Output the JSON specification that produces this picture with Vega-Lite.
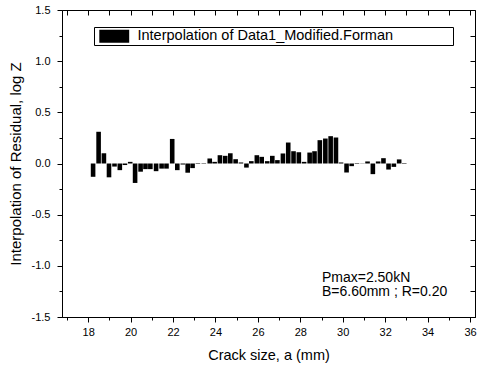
{
  "$schema": "https://vega.github.io/schema/vega-lite/v6.json",
  "width": 413,
  "height": 307,
  "autosize": {"type": "none"},
  "padding": {"left": 62, "top": 10, "right": 5, "bottom": 54},
  "background": "white",
  "config": {
    "view": {"stroke": "black", "strokeWidth": 1},
    "font": "Liberation Sans",
    "axis": {
      "domainColor": "black", "tickColor": "black", "labelColor": "black", "titleColor": "black",
      "labelFont": "Liberation Sans", "titleFont": "Liberation Sans",
      "labelFontSize": 11, "titleFontSize": 14.5, "titleFontWeight": "normal",
      "grid": false, "tickWidth": 1, "domainWidth": 1
    }
  },
  "datasets": {
    "bars": [
      {"a": 18.23, "z": -0.13, "series": "Interpolation of Data1_Modified.Forman"},
      {"a": 18.49, "z": 0.31, "series": "Interpolation of Data1_Modified.Forman"},
      {"a": 18.74, "z": 0.10, "series": "Interpolation of Data1_Modified.Forman"},
      {"a": 18.98, "z": -0.135, "series": "Interpolation of Data1_Modified.Forman"},
      {"a": 19.24, "z": -0.03, "series": "Interpolation of Data1_Modified.Forman"},
      {"a": 19.49, "z": -0.065, "series": "Interpolation of Data1_Modified.Forman"},
      {"a": 19.73, "z": -0.015, "series": "Interpolation of Data1_Modified.Forman"},
      {"a": 19.98, "z": 0.016, "series": "Interpolation of Data1_Modified.Forman"},
      {"a": 20.21, "z": -0.19, "series": "Interpolation of Data1_Modified.Forman"},
      {"a": 20.47, "z": -0.08, "series": "Interpolation of Data1_Modified.Forman"},
      {"a": 20.70, "z": -0.055, "series": "Interpolation of Data1_Modified.Forman"},
      {"a": 20.93, "z": -0.055, "series": "Interpolation of Data1_Modified.Forman"},
      {"a": 21.20, "z": -0.075, "series": "Interpolation of Data1_Modified.Forman"},
      {"a": 21.46, "z": -0.05, "series": "Interpolation of Data1_Modified.Forman"},
      {"a": 21.69, "z": -0.05, "series": "Interpolation of Data1_Modified.Forman"},
      {"a": 21.96, "z": 0.24, "series": "Interpolation of Data1_Modified.Forman"},
      {"a": 22.20, "z": -0.065, "series": "Interpolation of Data1_Modified.Forman"},
      {"a": 22.46, "z": -0.01, "series": "Interpolation of Data1_Modified.Forman"},
      {"a": 22.69, "z": -0.09, "series": "Interpolation of Data1_Modified.Forman"},
      {"a": 22.92, "z": -0.045, "series": "Interpolation of Data1_Modified.Forman"},
      {"a": 23.17, "z": 0.005, "series": "Interpolation of Data1_Modified.Forman"},
      {"a": 23.45, "z": -0.004, "series": "Interpolation of Data1_Modified.Forman"},
      {"a": 23.73, "z": 0.049, "series": "Interpolation of Data1_Modified.Forman"},
      {"a": 23.96, "z": 0.016, "series": "Interpolation of Data1_Modified.Forman"},
      {"a": 24.21, "z": 0.081, "series": "Interpolation of Data1_Modified.Forman"},
      {"a": 24.46, "z": 0.075, "series": "Interpolation of Data1_Modified.Forman"},
      {"a": 24.70, "z": 0.10, "series": "Interpolation of Data1_Modified.Forman"},
      {"a": 24.95, "z": 0.042, "series": "Interpolation of Data1_Modified.Forman"},
      {"a": 25.20, "z": 0.01, "series": "Interpolation of Data1_Modified.Forman"},
      {"a": 25.46, "z": -0.04, "series": "Interpolation of Data1_Modified.Forman"},
      {"a": 25.69, "z": 0.023, "series": "Interpolation of Data1_Modified.Forman"},
      {"a": 25.95, "z": 0.081, "series": "Interpolation of Data1_Modified.Forman"},
      {"a": 26.18, "z": 0.065, "series": "Interpolation of Data1_Modified.Forman"},
      {"a": 26.44, "z": 0.023, "series": "Interpolation of Data1_Modified.Forman"},
      {"a": 26.68, "z": 0.075, "series": "Interpolation of Data1_Modified.Forman"},
      {"a": 26.92, "z": 0.033, "series": "Interpolation of Data1_Modified.Forman"},
      {"a": 27.18, "z": 0.098, "series": "Interpolation of Data1_Modified.Forman"},
      {"a": 27.43, "z": 0.205, "series": "Interpolation of Data1_Modified.Forman"},
      {"a": 27.68, "z": 0.12, "series": "Interpolation of Data1_Modified.Forman"},
      {"a": 27.93, "z": 0.11, "series": "Interpolation of Data1_Modified.Forman"},
      {"a": 28.18, "z": 0.016, "series": "Interpolation of Data1_Modified.Forman"},
      {"a": 28.44, "z": 0.107, "series": "Interpolation of Data1_Modified.Forman"},
      {"a": 28.67, "z": 0.12, "series": "Interpolation of Data1_Modified.Forman"},
      {"a": 28.92, "z": 0.228, "series": "Interpolation of Data1_Modified.Forman"},
      {"a": 29.18, "z": 0.244, "series": "Interpolation of Data1_Modified.Forman"},
      {"a": 29.43, "z": 0.267, "series": "Interpolation of Data1_Modified.Forman"},
      {"a": 29.68, "z": 0.254, "series": "Interpolation of Data1_Modified.Forman"},
      {"a": 29.92, "z": 0.01, "series": "Interpolation of Data1_Modified.Forman"},
      {"a": 30.18, "z": -0.088, "series": "Interpolation of Data1_Modified.Forman"},
      {"a": 30.42, "z": -0.026, "series": "Interpolation of Data1_Modified.Forman"},
      {"a": 30.67, "z": -0.005, "series": "Interpolation of Data1_Modified.Forman"},
      {"a": 30.93, "z": 0.002, "series": "Interpolation of Data1_Modified.Forman"},
      {"a": 31.17, "z": 0.02, "series": "Interpolation of Data1_Modified.Forman"},
      {"a": 31.42, "z": -0.104, "series": "Interpolation of Data1_Modified.Forman"},
      {"a": 31.67, "z": 0.02, "series": "Interpolation of Data1_Modified.Forman"},
      {"a": 31.92, "z": 0.052, "series": "Interpolation of Data1_Modified.Forman"},
      {"a": 32.16, "z": -0.059, "series": "Interpolation of Data1_Modified.Forman"},
      {"a": 32.41, "z": -0.033, "series": "Interpolation of Data1_Modified.Forman"},
      {"a": 32.66, "z": 0.04, "series": "Interpolation of Data1_Modified.Forman"},
      {"a": 32.90, "z": -0.005, "series": "Interpolation of Data1_Modified.Forman"}
    ],
    "note": [
      {"a": 29.02, "z": -1.155, "text": "Pmax=2.50kN\nB=6.60mm ; R=0.20"}
    ]
  },
  "layer": [
    {
      "mark": {"type": "rule", "color": "#808080", "strokeWidth": 1.5},
      "encoding": {"y": {"datum": 0, "type": "quantitative", "axis": null}}
    },
    {
      "data": {"name": "bars"},
      "mark": {"type": "bar", "width": 4.6, "color": "black"},
      "encoding": {
        "x": {
          "field": "a", "type": "quantitative",
          "scale": {"domain": [17, 36], "nice": false, "zero": false},
          "axis": {
            "orient": "bottom",
            "values": [17,18,19,20,21,22,23,24,25,26,27,28,29,30,31,32,33,34,35,36],
            "labelExpr": "datum.value % 2 === 0 ? datum.label : ''",
            "tickSize": {"condition": {"test": "datum.value % 2 === 0", "value": 5}, "value": 3},
            "labelPadding": 4,
            "labelFlush": false,
            "title": "Crack size, a (mm)",
            "titlePadding": 11
          }
        },
        "y": {
          "field": "z", "type": "quantitative",
          "scale": {"domain": [-1.5, 1.5], "nice": false},
          "axis": {
            "orient": "left",
            "values": [-1.5,-1.25,-1,-0.75,-0.5,-0.25,0,0.25,0.5,0.75,1,1.25,1.5],
            "labelExpr": "abs(datum.value*2 - round(datum.value*2)) < 0.001 ? (datum.value < 0 ? '-' + format(-datum.value, '.1f') : format(datum.value, '.1f')) : ''",
            "tickSize": {"condition": {"test": "abs(datum.value*2 - round(datum.value*2)) < 0.001", "value": 5}, "value": 3},
            "labelPadding": 7,
            "labelFlush": false,
            "title": "Interpolation of Residual, log Z",
            "titleFontSize": 15,
            "titlePadding": 8
          }
        },
        "color": {
          "field": "series", "type": "nominal",
          "scale": {"range": ["black"]},
          "legend": {
            "orient": "none", "legendX": 32, "legendY": 17,
            "title": "\u00a0",
            "titleOrient": "right",
            "titlePadding": 58,
            "titleFontSize": 14.5,
            "symbolType": "M-2.3,-1H2.3V1H-2.3Z",
            "symbolSize": 169,
            "symbolFillColor": "black",
            "symbolStrokeWidth": 0,
            "symbolOffset": 11,
            "labelOffset": 16,
            "labelFont": "Liberation Sans",
            "labelFontSize": 14.5,
            "labelColor": "black",
            "labelLimit": 0,
            "strokeColor": "black",
            "fillColor": "white",
            "padding": 2
          }
        }
      }
    },
    {
      "data": {"name": "bars"},
      "mark": {"type": "point", "opacity": 0},
      "encoding": {
        "x": {
          "field": "a", "type": "quantitative",
          "axis": {
            "orient": "top",
            "values": [17,18,19,20,21,22,23,24,25,26,27,28,29,30,31,32,33,34,35,36],
            "labels": false, "domain": false, "tickSize": -5, "title": null
          }
        },
        "y": {
          "field": "z", "type": "quantitative",
          "axis": {
            "orient": "right",
            "values": [-1.5,-1.25,-1,-0.75,-0.5,-0.25,0,0.25,0.5,0.75,1,1.25,1.5],
            "labels": false, "domain": false, "tickSize": -5, "title": null
          }
        }
      }
    },
    {
      "data": {"name": "note"},
      "mark": {"type": "text", "align": "left", "baseline": "alphabetic", "font": "Liberation Sans", "fontSize": 14, "lineBreak": "\n", "lineHeight": 14.5, "color": "black"},
      "encoding": {
        "x": {"field": "a", "type": "quantitative", "axis": null},
        "y": {"field": "z", "type": "quantitative", "axis": null},
        "text": {"field": "text"}
      }
    }
  ],
  "resolve": {"axis": {"x": "independent", "y": "independent"}}
}
